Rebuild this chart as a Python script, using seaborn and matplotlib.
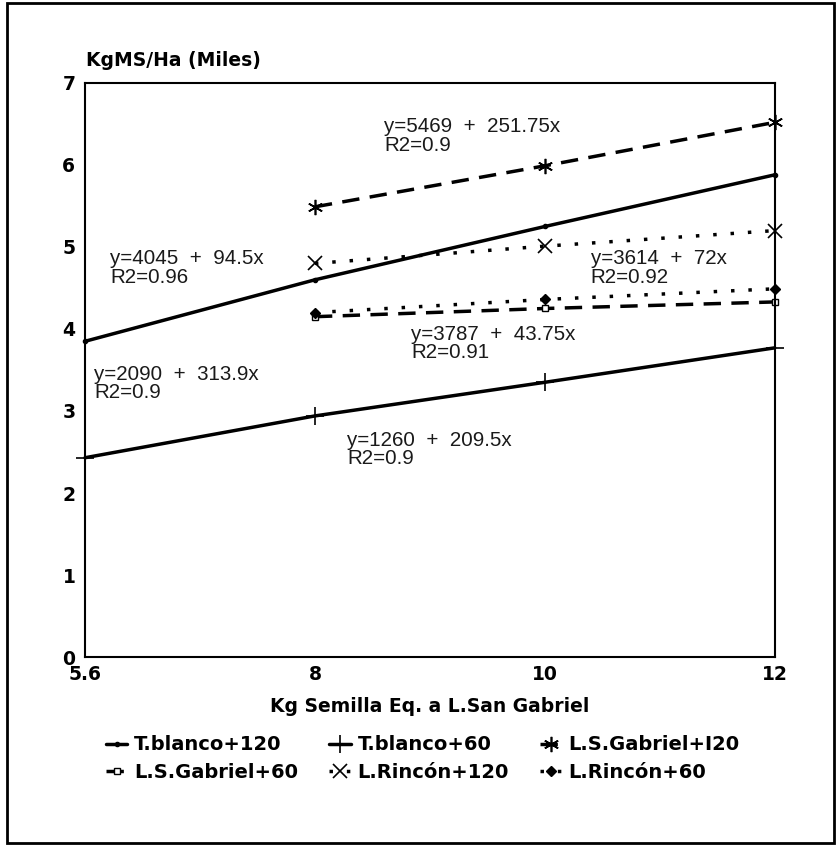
import matplotlib
matplotlib.use("Agg")
import matplotlib.pyplot as plt
import seaborn as sns
import pandas as pd
from matplotlib.patches import Rectangle

# categorias del eje x (kg semilla)
x_cats = ["5.6", "8", "10", "12"]

# valores (miles de kg MS/ha)
tblanco120 = [3.85, 4.60, 5.25, 5.88]
tblanco60 = [2.43, 2.94, 3.35, 3.77]
lsg120 = [5.49, 5.99, 6.52]
lsg60 = [4.15, 4.25, 4.33]
lrincon120 = [4.80, 5.01, 5.20]
lrincon60 = [4.20, 4.36, 4.49]

series = [
    ("T.blanco+120", x_cats, tblanco120),
    ("T.blanco+60", x_cats, tblanco60),
    ("L.S.Gabriel+I20", x_cats[1:], lsg120),
    ("L.S.Gabriel+60", x_cats[1:], lsg60),
    ("L.Rincón+120", x_cats[1:], lrincon120),
    ("L.Rincón+60", x_cats[1:], lrincon60),
]

estilos = {
    "T.blanco+120": dict(ls="-", marker="o", ms=3),
    "T.blanco+60": dict(ls="-", marker="+", ms=13, mew=1.2),
    "L.S.Gabriel+I20": dict(ls=(0, (5, 3)), marker=(6, 2, 0), ms=11, mew=1.2),
    "L.S.Gabriel+60": dict(ls=(0, (5, 3)), marker="s", ms=5, mfc="white", mew=1),
    "L.Rincón+120": dict(ls=(0, (1, 4)), marker="x", ms=10, mew=1.2),
    "L.Rincón+60": dict(ls=(0, (1, 4)), marker="D", ms=5),
}

ecuaciones = [
    ("y=5469  +  251.75x\nR2=0.9", 1.30, 6.58),
    ("y=4045  +  94.5x\nR2=0.96", 0.11, 4.97),
    ("y=3614  +  72x\nR2=0.92", 2.20, 4.97),
    ("y=3787  +  43.75x\nR2=0.91", 1.42, 4.05),
    ("y=2090  +  313.9x\nR2=0.9", 0.04, 3.56),
    ("y=1260  +  209.5x\nR2=0.9", 1.14, 2.76),
]

sns.set_style("white")
plt.rcParams["font.family"] = ["Liberation Sans", "DejaVu Sans"]
plt.rcParams["text.color"] = "black"
negrita = ["DejaVu Sans"]

fig = plt.figure(figsize=(8.37, 8.46), dpi=100)
ax = fig.add_axes([0.1016, 0.2234, 0.824, 0.6785])

for nombre, xs, ys in series:
    df = pd.DataFrame({"x": [x_cats.index(v) for v in xs], "y": ys})
    st = estilos[nombre]
    sns.lineplot(data=df, x="x", y="y", ax=ax, color="black", lw=2.5,
                 linestyle=st["ls"], marker=st["marker"], markersize=st["ms"],
                 markeredgewidth=st.get("mew", 1), markerfacecolor=st.get("mfc", "black"),
                 markeredgecolor="black", label=nombre, clip_on=False)

for txt, xx, yy in ecuaciones:
    ax.text(xx, yy, txt, fontsize=14.8, va="top", ha="left", linespacing=0.95, color="#1a1a1a")

ax.set_xlim(0, 3)
ax.set_ylim(0, 7)
ax.set_xticks(range(len(x_cats)))
ax.set_xticklabels(x_cats, fontweight="bold", fontsize=13.5, family=negrita)
ax.set_yticks(range(8))
ax.set_yticklabels([str(i) for i in range(8)], fontweight="bold", fontsize=13.5, family=negrita)
ax.tick_params(axis="both", direction="in", length=10, width=1.2,
               colors="black", labelcolor="black")
ax.tick_params(axis="x", pad=6)
ax.tick_params(axis="y", pad=7)
for s in ax.spines.values():
    s.set_linewidth(1.5)
    s.set_color("black")
ax.set_xlabel("Kg Semilla Eq. a L.San Gabriel", fontweight="bold", fontsize=13.5,
              family=negrita, labelpad=9, color="black")
ax.set_ylabel("")
fig.text(0.103, 0.928, "KgMS/Ha (Miles)", fontweight="bold", fontsize=13.5,
         family=negrita, ha="left", va="center", color="black")

h, l = ax.get_legend_handles_labels()
orden = [0, 3, 1, 4, 2, 5]
leg = ax.legend([h[i] for i in orden], [l[i] for i in orden], ncol=3, frameon=False,
                loc="center", bbox_to_anchor=(0.505, 0.103), bbox_transform=fig.transFigure,
                prop={"weight": "bold", "size": 14, "family": negrita}, handlelength=1.1,
                handletextpad=0.35, columnspacing=1.6, labelspacing=0.45)
for t in leg.get_texts():
    t.set_color("black")

fig.patches.append(Rectangle((0.008, 0.004), 0.988, 0.992, transform=fig.transFigure,
                             fill=False, lw=2, ec="black"))

fig.savefig("out.png", dpi=100)
